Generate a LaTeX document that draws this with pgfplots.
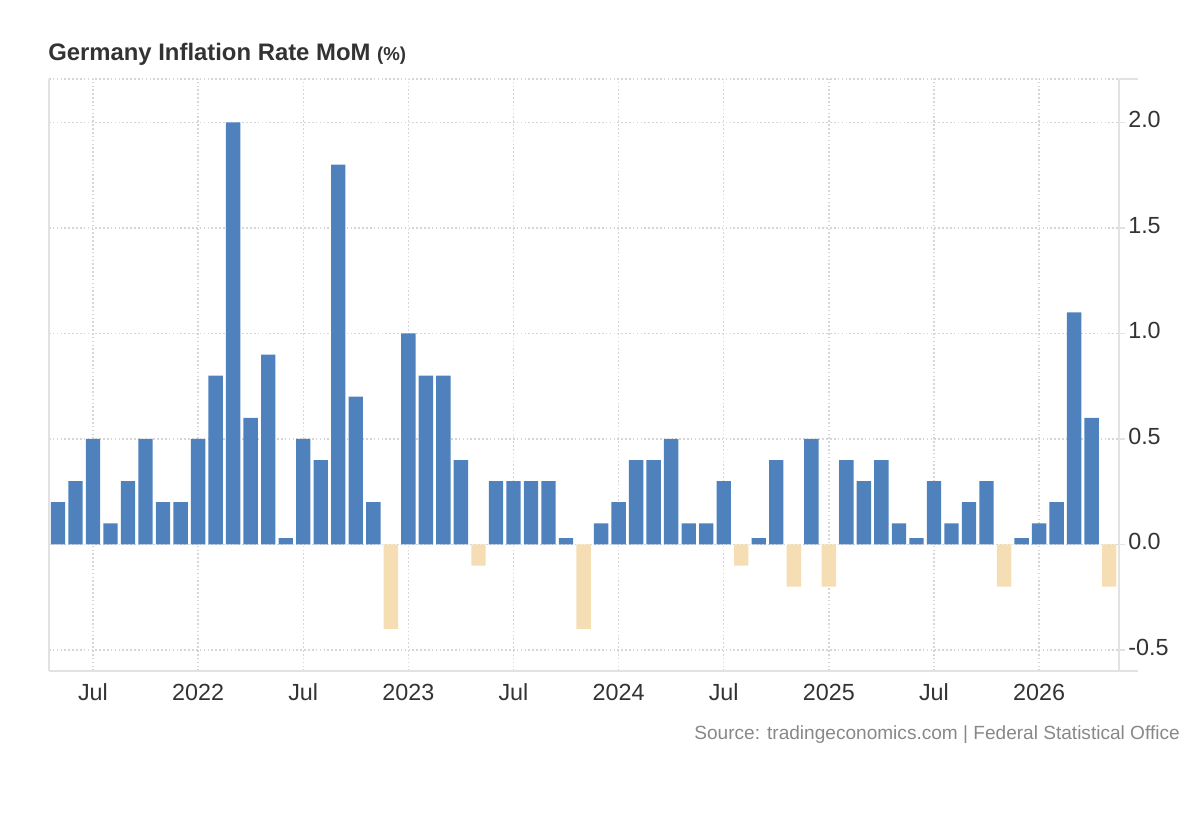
\documentclass[border=0pt]{standalone}
\usepackage{fontspec}
\setmainfont{Liberation Sans}
\usepackage{pgfplots}
\pgfplotsset{compat=1.18}
\definecolor{barblue}{RGB}{79,129,189}
\definecolor{barneg}{RGB}{245,222,179}
\definecolor{txt}{RGB}{51,51,51}
\definecolor{gridgray}{RGB}{214,214,214}
\definecolor{axisgray}{RGB}{226,226,226}
\definecolor{srcgray}{RGB}{136,136,136}

\pgfplotstableread{
x y
0 0.2
1 0.3
2 0.5
3 0.1
4 0.3
5 0.5
6 0.2
7 0.2
8 0.5
9 0.8
10 2.0
11 0.6
12 0.9
13 0.03
14 0.5
15 0.4
16 1.8
17 0.7
18 0.2
20 1.0
21 0.8
22 0.8
23 0.4
25 0.3
26 0.3
27 0.3
28 0.3
29 0.03
31 0.1
32 0.2
33 0.4
34 0.4
35 0.5
36 0.1
37 0.1
38 0.3
40 0.03
41 0.4
43 0.5
45 0.4
46 0.3
47 0.4
48 0.1
49 0.03
50 0.3
51 0.1
52 0.2
53 0.3
55 0.03
56 0.1
57 0.2
58 1.1
59 0.6
}\pos

\pgfplotstableread{
x y
19 -0.4
24 -0.1
30 -0.4
39 -0.1
42 -0.2
44 -0.2
54 -0.2
60 -0.2
}\neg

\begin{document}
\begin{tikzpicture}
\path[use as bounding box] (0,0) rectangle (900pt,615pt);
\begin{axis}[
  at={(36.75pt,111.75pt)}, anchor=south west,
  scale only axis, width=802.5pt, height=444pt,
  xmin=-0.51, xmax=60.56, ymin=-0.6, ymax=2.206,
  axis x line*=bottom, axis y line*=right,
  axis line style={draw=axisgray, line width=1.25pt, -},
  xtick={2,8,14,20,26,32,38,44,50,56},
  xticklabels={Jul,2022,Jul,2023,Jul,2024,Jul,2025,Jul,2026},
  ytick={-0.5,0,0.5,1,1.5,2,2.206},
  yticklabels={-0.5,0.0,0.5,1.0,1.5,2.0,{}},
  xtick style={draw=none},
  ytick style={draw=axisgray, line width=1pt},
  ytick align=outside, xtick align=inside,
  major tick length=4.5pt,
  grid=major,
  major grid style={draw=gridgray, line width=1pt, dash pattern=on 1.2pt off 1.7pt},
  tick label style={font=\fontsize{17.5}{20}\selectfont, text=txt},
  xticklabel style={anchor=base, yshift=-17.5pt},
  yticklabel style={anchor=west, inner sep=0pt, xshift=2.25pt, yshift=2pt},
  ybar, bar shift=0pt, bar width=0.82,
]
\addplot[fill=barblue, draw=none] table[x=x,y=y] {\pos};
\addplot[fill=barneg, draw=none] table[x=x,y=y] {\neg};
\end{axis}
\draw[axisgray, line width=1.25pt] (36.75pt,111.75pt) -- (36.75pt,555.75pt);
\draw[axisgray, line width=1.25pt] (839.25pt,555.75pt) -- (853.5pt,555.75pt);
\draw[axisgray, line width=1.25pt] (839.25pt,111.75pt) -- (853.5pt,111.75pt);
\node[anchor=base west, inner sep=0pt, text=txt] at (36pt,569.25pt)
  {\fontsize{17.9}{20}\selectfont\bfseries Germany Inflation Rate MoM\ \fontsize{14}{16}\selectfont(\%)};
\node[anchor=base east, inner sep=0pt, text=srcgray] at (885pt,60pt)
  {\fontsize{14.3}{16}\selectfont Source: tradingeconomics.com | Federal Statistical Office};
\end{tikzpicture}
\end{document}
